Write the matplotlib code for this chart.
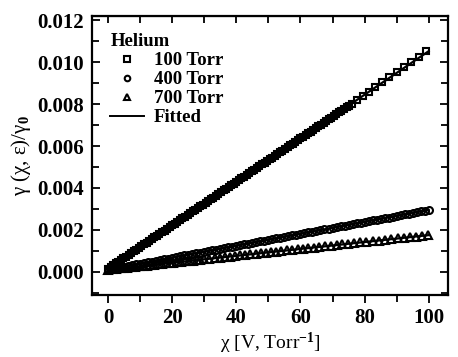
import numpy as np
import matplotlib
matplotlib.use('Agg')
import matplotlib.pyplot as plt
from matplotlib.ticker import MultipleLocator, FormatStrFormatter

plt.rcParams['font.family'] = ['Liberation Serif', 'DejaVu Serif']
plt.rcParams['font.weight'] = 'bold'
plt.rcParams['mathtext.fontset'] = 'custom'
plt.rcParams['mathtext.rm'] = 'Liberation Serif:bold'
plt.rcParams['mathtext.it'] = 'Liberation Serif:bold'
plt.rcParams['mathtext.default'] = 'rm'

# chi [V/Torr] and gamma/gamma0 (units of 1e-4) for each pressure
chi_100 = [0.0, 0.8, 1.6, 2.4, 3.2, 4.0, 4.8, 5.6, 6.4, 7.2,
           8.0, 8.8, 9.6, 10.4, 11.2, 12.0, 12.8, 13.6, 14.4, 15.2,
           16.0, 16.8, 17.6, 18.4, 19.2, 20.0, 20.8, 21.6, 22.4, 23.2,
           24.0, 24.8, 25.6, 26.4, 27.2, 28.0, 28.8, 29.6, 30.4, 31.2,
           32.0, 32.8, 33.6, 34.4, 35.2, 36.0, 36.8, 37.6, 38.4, 39.2,
           40.0, 40.8, 41.6, 42.4, 43.2, 44.0, 44.8, 45.6, 46.4, 47.2,
           48.0, 48.8, 49.6, 50.4, 51.2, 52.0, 52.8, 53.6, 54.4, 55.2,
           56.0, 56.8, 57.6, 58.4, 59.2, 60.0, 60.8, 61.6, 62.4, 63.2,
           64.0, 64.8, 65.6, 66.4, 67.2, 68.0, 68.8, 69.6, 70.4, 71.2,
           72.0, 72.8, 73.6, 74.4, 75.2, 76.0,
           77.7, 79.5, 81.4, 83.4, 85.5, 87.7, 90.0, 92.3, 94.6, 96.9, 99.2]
g_100 = [1.5, 2.3, 3.2, 4.0, 4.8, 5.6, 6.5, 7.3, 8.1, 9.0,
         9.8, 10.6, 11.4, 12.3, 13.1, 13.9, 14.7, 15.6, 16.4, 17.2,
         18.1, 18.9, 19.7, 20.5, 21.4, 22.2, 23.0, 23.9, 24.7, 25.5,
         26.3, 27.2, 28.0, 28.8, 29.7, 30.5, 31.3, 32.1, 33.0, 33.8,
         34.6, 35.4, 36.3, 37.1, 37.9, 38.8, 39.6, 40.4, 41.2, 42.1,
         42.9, 43.7, 44.6, 45.4, 46.2, 47.0, 47.9, 48.7, 49.5, 50.4,
         51.2, 52.0, 52.8, 53.7, 54.5, 55.3, 56.1, 57.0, 57.8, 58.6,
         59.5, 60.3, 61.1, 61.9, 62.8, 63.6, 64.4, 65.3, 66.1, 66.9,
         67.7, 68.6, 69.4, 70.2, 71.1, 71.9, 72.7, 73.5, 74.4, 75.2,
         76.0, 76.8, 77.7, 78.5, 79.3, 80.2,
         82.0, 84.0, 86.0, 88.2, 90.4, 92.8, 95.2, 97.6, 100.1, 102.6, 105.2]

chi_400 = [0.0, 1.25, 2.5, 3.75, 5.0, 6.25, 7.5, 8.75, 10.0, 11.25,
           12.5, 13.75, 15.0, 16.25, 17.5, 18.75, 20.0, 21.25, 22.5, 23.75,
           25.0, 26.25, 27.5, 28.75, 30.0, 31.25, 32.5, 33.75, 35.0, 36.25,
           37.5, 38.75, 40.0, 41.25, 42.5, 43.75, 45.0, 46.25, 47.5, 48.75,
           50.0, 51.25, 52.5, 53.75, 55.0, 56.25, 57.5, 58.75, 60.0, 61.25,
           62.5, 63.75, 65.0, 66.25, 67.5, 68.75, 70.0, 71.25, 72.5, 73.75,
           75.0, 76.25, 77.5, 78.75, 80.0, 81.25, 82.5, 83.75, 85.0, 86.25,
           87.5, 88.75, 90.0, 91.25, 92.5, 93.75, 95.0, 96.25, 97.5, 98.75,
           100.0]
g_400 = [1.0, 1.4, 1.7, 2.1, 2.4, 2.8, 3.1, 3.5, 3.9, 4.2,
         4.6, 4.9, 5.3, 5.6, 6.0, 6.3, 6.7, 7.1, 7.4, 7.8,
         8.1, 8.5, 8.8, 9.2, 9.6, 9.9, 10.3, 10.6, 11.0, 11.3,
         11.7, 12.0, 12.4, 12.8, 13.1, 13.5, 13.8, 14.2, 14.5, 14.9,
         15.3, 15.6, 16.0, 16.3, 16.7, 17.0, 17.4, 17.7, 18.1, 18.5,
         18.8, 19.2, 19.5, 19.9, 20.2, 20.6, 21.0, 21.3, 21.7, 22.0,
         22.4, 22.7, 23.1, 23.4, 23.8, 24.2, 24.5, 24.9, 25.2, 25.6,
         25.9, 26.3, 26.7, 27.0, 27.4, 27.7, 28.1, 28.4, 28.8, 29.1,
         29.5]

chi_700 = [0.0, 1.2, 2.4, 3.6, 4.8, 6.0, 7.2, 8.4, 9.6, 10.8,
           12.0, 13.2, 14.4, 15.6, 16.8, 18.0, 19.2, 20.4, 21.6, 22.8,
           24.0, 25.2, 26.4, 27.6, 28.8, 30.0,
           31.6, 33.2, 34.8, 36.4, 38.0, 39.6, 41.2, 42.8, 44.4, 46.0,
           47.6, 49.2, 50.8, 52.4, 54.0,
           55.7, 57.4, 59.1, 60.8, 62.5, 64.2, 65.9,
           67.7, 69.5, 71.3, 73.1, 74.9,
           76.8, 78.7, 80.6, 82.5, 84.4, 86.3,
           88.3, 90.3,
           92.2, 94.1, 96.0, 97.9, 99.8]
g_700 = [1.0, 1.2, 1.4, 1.6, 1.8, 2.0, 2.2, 2.4, 2.6, 2.8,
         3.0, 3.2, 3.4, 3.6, 3.8, 4.0, 4.2, 4.4, 4.6, 4.8,
         5.0, 5.2, 5.4, 5.6, 5.8, 6.0,
         6.2, 6.5, 6.7, 7.0, 7.3, 7.5, 7.8, 8.1, 8.3, 8.6,
         8.9, 9.1, 9.4, 9.6, 9.9,
         10.2, 10.5, 10.8, 11.0, 11.3, 11.6, 11.9,
         12.2, 12.5, 12.8, 13.1, 13.4,
         13.7, 14.0, 14.3, 14.6, 14.9, 15.2,
         15.6, 15.9,
         16.2, 16.5, 16.8, 17.2, 17.5]

pressures = ['100 Torr', '400 Torr', '700 Torr']
markers = ['s', 'o', '^']
sizes = [5, 5, 5.6]

data = [(np.array(chi_100), np.array(g_100) * 1e-4),
        (np.array(chi_400), np.array(g_400) * 1e-4),
        (np.array(chi_700), np.array(g_700) * 1e-4)]

fig = plt.figure(figsize=(4.58, 3.57), dpi=100)
ax = fig.add_axes([0.201, 0.174, 0.777, 0.781])

xfit = np.array([0.0, 100.0])
for (x, y), m, ms, lab in zip(data, markers, sizes, pressures):
    ax.plot(x, y, ls='none', marker=m, ms=ms, mfc='none', mec='black',
            mew=1.5, label=lab, zorder=3)
    k, b = np.polyfit(x, y, 1)
    ax.plot(xfit, k * xfit + b, color='black', lw=1.6, zorder=2)

ax.plot([], [], color='black', lw=1.4, label='Fitted')

ax.set_xlim(-5, 106)
ax.set_ylim(-0.0011, 0.0122)
ax.xaxis.set_major_locator(MultipleLocator(20))
ax.xaxis.set_minor_locator(MultipleLocator(10))
ax.yaxis.set_major_locator(MultipleLocator(0.002))
ax.yaxis.set_minor_locator(MultipleLocator(0.001))
ax.yaxis.set_major_formatter(FormatStrFormatter('%.3f'))

ax.tick_params(axis='x', which='both', direction='out', top=False,
               labelsize=15, width=1.3)
ax.tick_params(axis='y', which='both', direction='in', right=True,
               labelsize=15, width=1.3, pad=6)
ax.tick_params(which='major', length=6)
ax.tick_params(which='minor', length=5)
top = ax.secondary_xaxis('top')
top.xaxis.set_major_locator(MultipleLocator(10))
top.tick_params(direction='in', length=5, width=1.3, labeltop=False)
for s in ax.spines.values():
    s.set_linewidth(1.6)

ax.set_xlabel('χ [V, Torr$^{-1}$]', fontsize=14, labelpad=2)
ax.set_ylabel('γ (χ, ε)/γ$_0$', fontsize=15, labelpad=3)

ax.legend(title='Helium', loc='upper left', bbox_to_anchor=(0.02, 0.978),
          frameon=False, fontsize=13.5, title_fontsize=13.5, alignment='left',
          handlelength=1.8, handletextpad=0.5, labelspacing=0.1,
          borderaxespad=0.3, borderpad=0.3, markerscale=0.8)

fig.savefig('out.png', dpi=100)
